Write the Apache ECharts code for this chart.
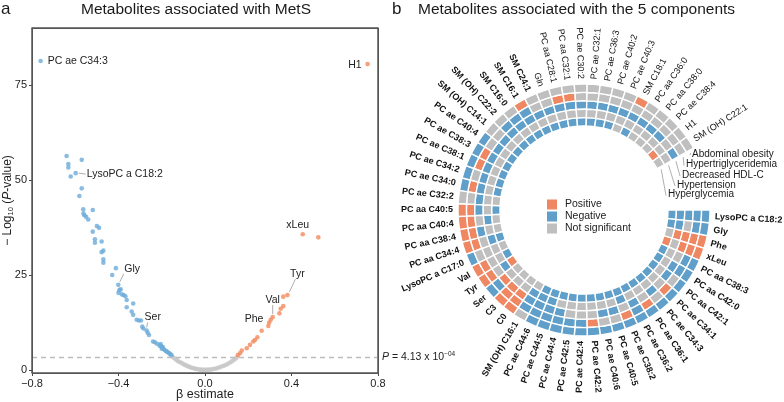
<!DOCTYPE html>
<html><head><meta charset="utf-8">
<script src="https://cdn.jsdelivr.net/npm/echarts@6/dist/echarts.min.js"></script>
<style>html,body{margin:0;padding:0;background:#fff}#c{width:784px;height:402px}</style>
</head><body><div id="c"></div>
<script>
const FONT = '"Liberation Sans", Arial, Helvetica, sans-serif';

// ---------- Panel a: volcano plot ----------
const negativePoints = [[-0.76,81.3],[-0.64,56.3],[-0.57,55.3],[-0.632,54.2],[-0.632,53.3],[-0.598,51.8],[-0.621,50.9],[-0.57,47.8],[-0.581,45.8],
 [-0.563,42.3],[-0.519,42.1],[-0.562,41.2],[-0.558,40.7],[-0.55,40.3],[-0.54,39.6],[-0.50,37.9],[-0.49,37.4],[-0.519,36.4],[-0.509,34.4],[-0.509,33.5],
 [-0.478,33.8],[-0.47,31.4],[-0.478,31.0],[-0.47,29.1],[-0.47,28.2],[-0.412,26.8],[-0.429,25.0],[-0.401,22.4],[-0.396,21.0],[-0.39,21.2],[-0.40,20.3],
 [-0.385,19.9],[-0.376,19.7],[-0.368,19.4],[-0.362,18.4],[-0.332,17.5],[-0.362,16.5],[-0.339,15.4],[-0.332,14.5],[-0.316,13.2],[-0.306,13.0],[-0.296,13.0],
 [-0.29,11.4],[-0.285,10.9],[-0.27,10.4],[-0.265,9.8],[-0.259,9.2],[-0.24,7.5],[-0.232,7.3],[-0.222,6.9],[-0.205,6.8],[-0.203,6.3],[-0.198,5.9],
 [-0.192,5.5],[-0.186,5.2],[-0.18,5.0],[-0.176,4.8],[-0.17,4.6],[-0.165,4.4],[-0.16,4.1],[-0.2,5.6],[-0.195,6.0],[-0.21,6.4],[-0.155,3.9]];
const positivePoints = [[0.752,80.5],[0.452,35.7],[0.524,34.9],[0.381,19.7],[0.362,19.3],[0.362,16.8],[0.35,16.1],[0.344,14.9],[0.313,13.9],
 [0.304,13.2],[0.297,12.5],[0.293,11.6],[0.262,10.3],[0.242,8.6],[0.231,7.9],[0.223,7.5],[0.208,6.6],[0.193,5.7],[0.17,5.1],[0.162,4.4],[0.152,3.9]];
const nsPoints = [[-0.148,3.4],[-0.142,3.1],[-0.136,2.8],[-0.13,2.6],[-0.124,2.3],[-0.118,2.1],[-0.11,1.9],[-0.104,1.7],[-0.098,1.5],[-0.092,1.3],
 [-0.086,1.15],[-0.08,1.0],[-0.074,0.85],[-0.068,0.7],[-0.062,0.6],[-0.056,0.5],[-0.05,0.4],[-0.044,0.3],[-0.038,0.25],[-0.032,0.18],[-0.026,0.12],
 [-0.02,0.08],[-0.014,0.05],[-0.008,0.03],[-0.003,0.01],[0.003,0.01],[0.008,0.03],[0.014,0.05],[0.02,0.08],[0.028,0.14],[0.036,0.22],[0.044,0.3],
 [0.052,0.4],[0.06,0.55],[0.068,0.7],[0.076,0.9],[0.084,1.05],[0.092,1.25],[0.1,1.45],[0.108,1.7],[0.116,1.95],[0.124,2.25],[0.132,2.6],[0.14,2.9],[0.146,3.2]];
const volcanoLabels = [
 {text:'PC ae C34:3', at:[-0.76,81.3], dx:7, dy:0, align:'left'},
 {text:'H1', at:[0.752,80.5], dx:-6, dy:1, align:'right'},
 {text:'LysoPC a C18:2', at:[-0.598,51.8], dx:11, dy:1, align:'left', line:[[3,0],[10,1]]},
 {text:'Gly', at:[-0.401,22.4], dx:6, dy:-16, align:'left', line:[[1.5,-3],[5.5,-11]]},
 {text:'Ser', at:[-0.27,10.4], dx:-2, dy:-13, align:'left', line:[[0,-3],[1,-8]]},
 {text:'xLeu', at:[0.452,35.7], dx:-5, dy:-9, align:'center'},
 {text:'Tyr', at:[0.381,19.7], dx:10, dy:-21, align:'center', line:[[2,-3],[8,-16]]},
 {text:'Val', at:[0.313,13.9], dx:0, dy:-17, align:'center', line:[[0,-3],[0,-12]]},
 {text:'Phe', at:[0.293,11.6], dx:-5, dy:-7, align:'right'}
];
const yTicks = [0,25,50,75];
const xRange = [-0.8, 0.8], yRange = [-0.8, 90];
const thresholdLogP = 3.38;

// ---------- Panel b: circular heatmap ----------
const metabolites = ['LysoPC a C18:2','Gly','Phe','xLeu','PC aa C38:3','PC aa C42:0','PC aa C42:1','PC ae C34:1','PC ae C34:3','PC ae C36:1',
 'PC ae C36:2','PC ae C38:2','PC ae C40:5','PC ae C40:6','PC ae C42:2','PC ae C42:4','PC ae C42:5','PC ae C44:4','PC ae C44:5','PC ae C44:6',
 'SM (OH) C16:1','C0','C3','Ser','Tyr','Val','LysoPC a C17:0','PC aa C34:4','PC aa C38:4','PC aa C40:4','PC aa C40:5','PC ae C32:2','PC ae C34:0',
 'PC ae C34:2','PC ae C38:1','PC ae C38:3','PC ae C40:4','SM (OH) C14:1','SM (OH) C22:2','SM C16:0','SM C16:1','SM C24:1','Gln','PC aa C28:1',
 'PC aa C32:1','PC ae C30:2','PC ae C32:1','PC ae C36:3','PC ae C40:2','PC ae C40:3','SM C18:1','PC aa C36:0','PC aa C38:0','PC ae C38:4','H1','SM (OH) C22:1'];
const boldCount = 42;
const gapSlots = ['gap1','gap2','gap3','gap4','gap5'];
const components = ['Hyperglycemia','Hypertension','Decreased HDL-C','Hypertriglyceridemia','Abdominal obesity']; // inner -> outer
// 1 = positive, -1 = negative, 0 = not significant
const hyperglycemia = [-1,-1,0,1,-1,-1,-1,-1,-1,-1, -1,-1,-1,-1,-1,-1,-1,-1,-1,-1, 0,0,0,0,1,-1,0,-1,0,0, -1,0,-1,-1,-1,-1,-1,-1,-1,-1, -1,-1,-1,-1,-1,-1,-1,-1,-1,0, -1,0,0,0,1,0];
const hypertension = [-1,-1,1,0,0,0,0,0,0,0, 0,-1,0,0,0,0,0,0,-1,-1, -1,0,0,0,-1,0,0,-1,0,-1, 0,0,0,0,0,0,0,0,0,0, 0,0,0,0,0,0,0,0,0,0, 0,0,0,0,0,0];
const decreasedHDL = [-1,0,1,1,0,-1,-1,0,-1,0, -1,0,-1,-1,0,0,0,-1,-1,-1, -1,1,1,1,0,0,0,0,-1,0, -1,-1,-1,-1,-1,-1,-1,-1,-1,-1, -1,-1,-1,-1,-1,-1,-1,-1,-1,-1, -1,-1,-1,-1,0,-1];
const hypertriglyceridemia = [-1,-1,1,1,-1,-1,0,1,0,1, -1,1,0,0,1,-1,-1,-1,-1,-1, -1,1,1,-1,1,1,0,1,1,1, 1,0,1,0,1,1,0,0,-1,-1, -1,0,0,1,1,0,0,0,0,0, 0,0,0,0,0,0];
const abdominalObesity = [-1,-1,1,1,-1,-1,-1,-1,-1,-1, -1,-1,-1,-1,-1,-1,-1,-1,-1,-1, 0,1,1,-1,1,1,-1,1,1,1, 1,0,-1,-1,-1,-1,-1,0,0,0, 1,0,0,0,0,0,0,0,0,0, 1,0,0,0,0,0];
const ringValues = [hyperglycemia, hypertension, decreasedHDL, hypertriglyceridemia, abdominalObesity];
const categories = [{name:'Positive', code:1, color:'#ef8763'},{name:'Negative', code:-1, color:'#5f9fca'},{name:'Not significant', code:0, color:'#bfbfbf'}];

const cx = 584, cy = 210, r0 = 84, r1 = 126;
const gridBox = {left:32, top:28, width:346, height:345};
const frameColor = '#555555';

function cellsFor(code){
  const out = [];
  ringValues.forEach((arr, ring) => arr.forEach((v, i) => { if (v === code) out.push([ring, i, v]); }));
  return out;
}
function renderCell(params, api){
  const rv = api.value(0), av = api.value(1);
  const c = api.coord([rv, av]);
  const s = api.size([1, 1], [rv, av]);
  return {type:'sector', shape:{cx:params.coordSys.cx, cy:params.coordSys.cy, r0:c[2]-s[0]/2, r:c[2]+s[0]/2,
    startAngle:-(c[3]+s[1]/2), endAngle:-(c[3]-s[1]/2)},
    style:{fill:api.visual('color'), stroke:'#ffffff', lineWidth:1.4}};
}
// frame of the volcano plot, drawn from the axis extents of the cartesian system
function renderFrame(params, api){
  const a = api.coord([xRange[0], yRange[0]]);
  const b = api.coord([xRange[1], yRange[1]]);
  const x0 = Math.min(a[0], b[0]), x1 = Math.max(a[0], b[0]), y0 = Math.min(a[1], b[1]), y1 = Math.max(a[1], b[1]);
  const w = 1;
  return {type:'group', children:[
    {type:'rect', shape:{x:x0 - w/2, y:y0 - w/2, width:x1 - x0 + w, height:w}, style:{fill:frameColor}},
    {type:'rect', shape:{x:x0 - w/2, y:y1 - w/2, width:x1 - x0 + w, height:w}, style:{fill:frameColor}},
    {type:'rect', shape:{x:x0 - w/2, y:y0 - w/2, width:w, height:y1 - y0 + w}, style:{fill:frameColor}},
    {type:'rect', shape:{x:x1 - w/2, y:y0 - w/2, width:w, height:y1 - y0 + w}, style:{fill:frameColor}}
  ]};
}

const chart = echarts.init(document.getElementById('c'), null, {renderer:'canvas'});
const axisTextColor = '#1e1e1e';
const option = {
  animation:false,
  textStyle:{fontFamily:FONT},
  legend:{data:categories.map(c=>c.name), orient:'vertical', left:542, top:194, itemWidth:10, itemHeight:10, itemGap:1,
    icon:'rect', selectedMode:false, textStyle:{fontSize:10.5, color:'#222', padding:[0,0,0,3]}},
  grid:Object.assign({show:true, borderColor:frameColor, borderWidth:1, backgroundColor:'rgba(0,0,0,0)', containLabel:false, outerBoundsMode:'none'}, gridBox),
  xAxis:{type:'value', min:xRange[0], max:xRange[1], interval:0.4, position:'bottom', axisLine:{show:false, onZero:false}, splitLine:{show:false},
    axisTick:{show:true, length:3, lineStyle:{color:'#444'}},
    axisLabel:{fontSize:11, color:axisTextColor, margin:5, formatter:v => (v < -1e-9 ? '\u2212' : '') + Math.abs(v).toFixed(1)},
    name:'\u03b2 estimate', nameLocation:'middle', nameGap:15, nameMoveOverlap:false, nameTextStyle:{fontSize:12.5, color:axisTextColor}},
  yAxis:{type:'value', min:yRange[0], max:yRange[1], position:'left', axisLine:{show:false, onZero:false}, splitLine:{show:false},
    axisTick:{show:true, length:3, customValues:yTicks, lineStyle:{color:'#444'}},
    axisLabel:{fontSize:11, color:axisTextColor, margin:5, customValues:yTicks},
    name:'{a|\u2212 Log}{s|10}{a| (}{i|P}{a|-value)}', nameLocation:'middle', nameGap:17, nameMoveOverlap:false, nameRotate:90,
    nameTextStyle:{rich:{a:{fontSize:12, color:axisTextColor, lineHeight:14}, s:{fontSize:7.5, color:axisTextColor, lineHeight:8, verticalAlign:'bottom'},
      i:{fontSize:12, fontStyle:'italic', color:axisTextColor, lineHeight:14}}}},
  polar:{center:[cx, cy], radius:[r0, r1]},
  angleAxis:{type:'category', data:metabolites.concat(gapSlots), startAngle:0, clockwise:true, boundaryGap:true,
    axisLine:{show:false}, axisTick:{show:false}, axisLabel:{show:false}, splitLine:{show:false}},
  radiusAxis:{type:'category', data:components, axisLine:{show:false}, axisTick:{show:false}, axisLabel:{show:false}, splitLine:{show:false}},
  series:[
    {type:'scatter', name:'ns', data:nsPoints, symbolSize:4.6, itemStyle:{color:'#c8c8c8'},
      markLine:{silent:true, symbol:'none', lineStyle:{type:[5,4], color:'#bdbdbd', width:1.3},
        label:{show:true, position:'end', distance:4, formatter:'{i|P}{a| = 4.13 x 10}{s|\u221204}',
          rich:{a:{fontSize:10.5, color:'#222', lineHeight:13}, i:{fontSize:10.5, fontStyle:'italic', color:'#222', lineHeight:13},
            s:{fontSize:6.5, color:'#222', lineHeight:7, verticalAlign:'top'}}},
        data:[{yAxis:thresholdLogP}]}},
    {type:'scatter', name:'neg', data:negativePoints, symbolSize:4.6, itemStyle:{color:'#6dabd9'}},
    {type:'scatter', name:'pos', data:positivePoints, symbolSize:4.6, itemStyle:{color:'#f2895c'}}
  ].concat(categories.map(c => ({type:'custom', name:c.name, coordinateSystem:'polar', renderItem:renderCell,
    itemStyle:{color:c.color}, encode:{radius:0, angle:1}, data:cellsFor(c.code)})))
   .concat([{type:'custom', name:'frame', coordinateSystem:'cartesian2d', renderItem:renderFrame, clip:false, silent:true, z:5,
     data:[[xRange[0], yRange[0]]]}])
};
chart.setOption(option);

// ---------- annotations ----------
const g = [];
function txt(text, x, y, size, opts){
  opts = opts || {};
  return {type:'text', x:x, y:y, rotation:opts.rotation || 0, silent:true,
    style:{text:text, fontSize:size, fontFamily:FONT, fontWeight:opts.weight || 'normal', fill:opts.fill || '#1a1a1a',
      align:opts.align || 'left', verticalAlign:opts.valign || 'middle', textAlign:opts.align || 'left', textVerticalAlign:opts.valign || 'middle'}};
}
// frame bars on the grid box (fallback)
[[gridBox.left, gridBox.top, gridBox.width + 1, 1], [gridBox.left, gridBox.top + gridBox.height, gridBox.width + 1, 1],
 [gridBox.left, gridBox.top, 1, gridBox.height + 1], [gridBox.left + gridBox.width, gridBox.top, 1, gridBox.height + 1]].forEach(r => {
  g.push({type:'rect', silent:true, z:60, shape:{x:r[0], y:r[1], width:r[2], height:r[3]}, style:{fill:frameColor}});
});

g.push(txt('a', 1, 9, 17));
g.push(txt('Metabolites associated with MetS', 196, 10, 15.5, {align:'center'}));
g.push(txt('b', 392, 9, 17));
g.push(txt('Metabolites associated with the 5 components', 418, 10, 15.5));

// volcano point labels and leader lines
volcanoLabels.forEach(l => {
  const p = chart.convertToPixel({seriesIndex:0}, l.at);
  g.push(txt(l.text, p[0] + l.dx, p[1] + l.dy, 10.5, {align:l.align, fill:'#222'}));
  if (l.line) {
    g.push({type:'line', silent:true, shape:{x1:p[0]+l.line[0][0], y1:p[1]+l.line[0][1], x2:p[0]+l.line[1][0], y2:p[1]+l.line[1][1]},
      style:{stroke:'#9a9a9a', lineWidth:0.8}});
  }
});

// metabolite labels around the ring
const cellSeries = 3;
metabolites.forEach((m, i) => {
  const p = chart.convertToPixel({seriesIndex:cellSeries}, [components.length - 1, i]);
  const dx = p[0] - cx, dy = p[1] - cy, len = Math.hypot(dx, dy);
  const ux = dx / len, uy = dy / len;
  const theta = Math.atan2(-dy, dx);
  const R = r1 + 5;
  const right = ux >= -1e-6;
  g.push(txt(m, cx + ux * R, cy + uy * R, 9, {rotation: right ? theta : theta - Math.PI, align: right ? 'left' : 'right',
    weight: i < boldCount ? 'bold' : 'normal', fill:'#111'}));
});

// component (track) labels with leader lines
const trackLabelPos = [[668,194.5],[677,185],[682,175],[686,164.5],[692,154]];
const last = metabolites.length - 1;
components.forEach((name, j) => {
  const pa = chart.convertToPixel({seriesIndex:cellSeries}, [j, last]);
  const pb = chart.convertToPixel({seriesIndex:cellSeries}, [j, last - 1]);
  const ta = Math.atan2(-(pa[1]-cy), pa[0]-cx), tb = Math.atan2(-(pb[1]-cy), pb[0]-cx);
  const tEnd = ta + (ta - tb) / 2;
  const rr = Math.hypot(pa[0]-cx, pa[1]-cy);
  const ex = cx + rr * Math.cos(tEnd - 0.01), ey = cy - rr * Math.sin(tEnd - 0.01);
  const lp = trackLabelPos[j];
  g.push({type:'line', silent:true, shape:{x1:ex, y1:ey + 2, x2:lp[0] - 2, y2:lp[1] + 1}, style:{stroke:'#9a9a9a', lineWidth:0.8}});
  g.push(txt(name, lp[0], lp[1], 10, {fill:'#1a1a1a'}));
});

chart.setOption({graphic:g});
</script>
</body></html>
